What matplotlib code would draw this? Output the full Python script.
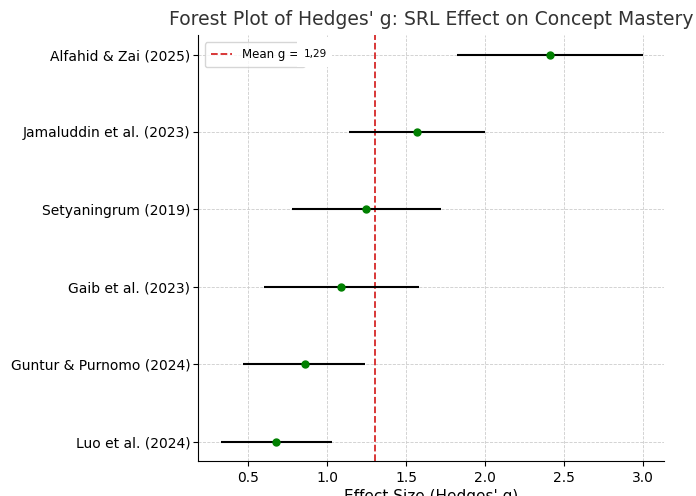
import matplotlib.pyplot as plt
import matplotlib.patches as mpatches

# study data (top to bottom)
studies = ['Alfahid & Zai (2025)', 'Jamaluddin et al. (2023)', 'Setyaningrum (2019)',
           'Gaib et al. (2023)', 'Guntur & Purnomo (2024)', 'Luo et al. (2024)']
g_values = [2.41, 1.57, 1.25, 1.09, 0.86, 0.68]
ci_low = [1.82, 1.14, 0.78, 0.60, 0.47, 0.33]
ci_high = [3.00, 2.00, 1.72, 1.58, 1.24, 1.03]
mean_g = 1.305
mean_label = '1,29'

fig = plt.figure(figsize=(6.96, 4.96), dpi=100)
ax = fig.add_axes([0.2845, 0.0706, 0.6695, 0.8584])

ypos = list(range(len(studies)))[::-1]
xerr = [[g - lo for g, lo in zip(g_values, ci_low)],
        [hi - g for g, hi in zip(g_values, ci_high)]]
ax.errorbar(g_values, ypos, xerr=xerr, fmt='o', color='green', ecolor='black',
            elinewidth=1.5, capsize=0, markersize=5, zorder=3)

ax.axvline(mean_g, color='#d62728', linestyle='--', linewidth=1.3, label='Mean g =')

ax.set_yticks(ypos)
ax.set_yticklabels(studies, fontsize=10)
ax.set_xticks([0.5, 1.0, 1.5, 2.0, 2.5, 3.0])
ax.tick_params(axis='x', labelsize=10)
ax.tick_params(axis='y', pad=2)
ax.set_xlim(0.184, 3.133)
ax.set_xlabel("Effect Size (Hedges' g)", fontsize=11, labelpad=3)
ax.set_title("Forest Plot of Hedges' g: SRL Effect on Concept Mastery", fontsize=13.5,
             color='#333333', pad=7)
ax.grid(True, linestyle='--', linewidth=0.6, color='#cccccc')
ax.set_axisbelow(True)
for side in ['top', 'right']:
    ax.spines[side].set_visible(False)

leg = ax.legend(loc='upper left', fontsize=8.5, handlelength=1.8, borderaxespad=0.6,
                borderpad=0.5)
# white patch hides the end of the legend box, value written on it
cover = mpatches.Rectangle((0.2125, 0.925), 0.075, 0.07, transform=ax.transAxes,
                           facecolor='white', edgecolor='none', zorder=9)
ax.add_patch(cover)
ax.text(0.2275, 0.955, mean_label, transform=ax.transAxes, fontsize=7.5,
        va='center', ha='left', zorder=10)

fig.savefig('out.png', dpi=100)
